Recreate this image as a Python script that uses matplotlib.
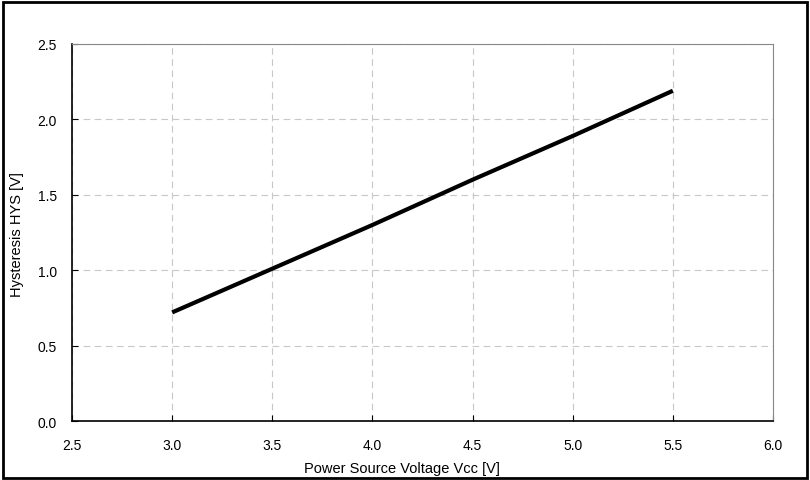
import matplotlib.pyplot as plt
from matplotlib.patches import Rectangle

# Hysteresis vs. supply voltage
vcc = [3.0, 3.5, 4.0, 4.5, 5.0, 5.5]
hys = [0.72, 1.01, 1.30, 1.60, 1.89, 2.19]

xticks = [2.5, 3.0, 3.5, 4.0, 4.5, 5.0, 5.5, 6.0]
yticks = [0.0, 0.5, 1.0, 1.5, 2.0, 2.5]

plt.rcParams['font.family'] = ['Liberation Sans', 'DejaVu Sans']

W, H = 810, 481
fig = plt.figure(figsize=(W / 100, H / 100), dpi=100)
ax = fig.add_axes([72 / W, 1 - 422 / H, (773 - 72) / W, (422 - 45) / H])

ax.plot(vcc, hys, color='black', linewidth=3, solid_capstyle='butt')

ax.set_xlim(2.5, 6.0)
ax.set_ylim(0.0, 2.5)
ax.set_xticks(xticks)
ax.set_yticks(yticks)
ax.set_xticklabels([f'{t:.1f}' for t in xticks])
ax.set_yticklabels([f'{t:.1f}' for t in yticks])
ax.tick_params(direction='in', length=4, width=0.8, labelsize=10)
ax.tick_params(axis='x', pad=12)
ax.tick_params(axis='y', pad=11)
ax.grid(True, color='#c8c8c8', linestyle=(0, (6, 4)), linewidth=0.8)

for side in ['left', 'bottom']:
    ax.spines[side].set_color('black')
    ax.spines[side].set_linewidth(1.2)
for side in ['top', 'right']:
    ax.spines[side].set_color('#888888')
    ax.spines[side].set_linewidth(0.8)

fig.text(402 / W, 1 - 469 / H, 'Power Source Voltage Vcc [V]',
         ha='center', va='center', fontsize=10.5)
fig.text(17 / W, 1 - 235 / H, 'Hysteresis HYS [V]', rotation=90,
         ha='center', va='center', fontsize=10.5)

# outer frame
fig.patches.append(Rectangle((3 / W, 2 / H), (W - 6) / W, (H - 5) / H,
                             transform=fig.transFigure, fill=False,
                             edgecolor='black', linewidth=2))

fig.savefig('out.png', dpi=100)
